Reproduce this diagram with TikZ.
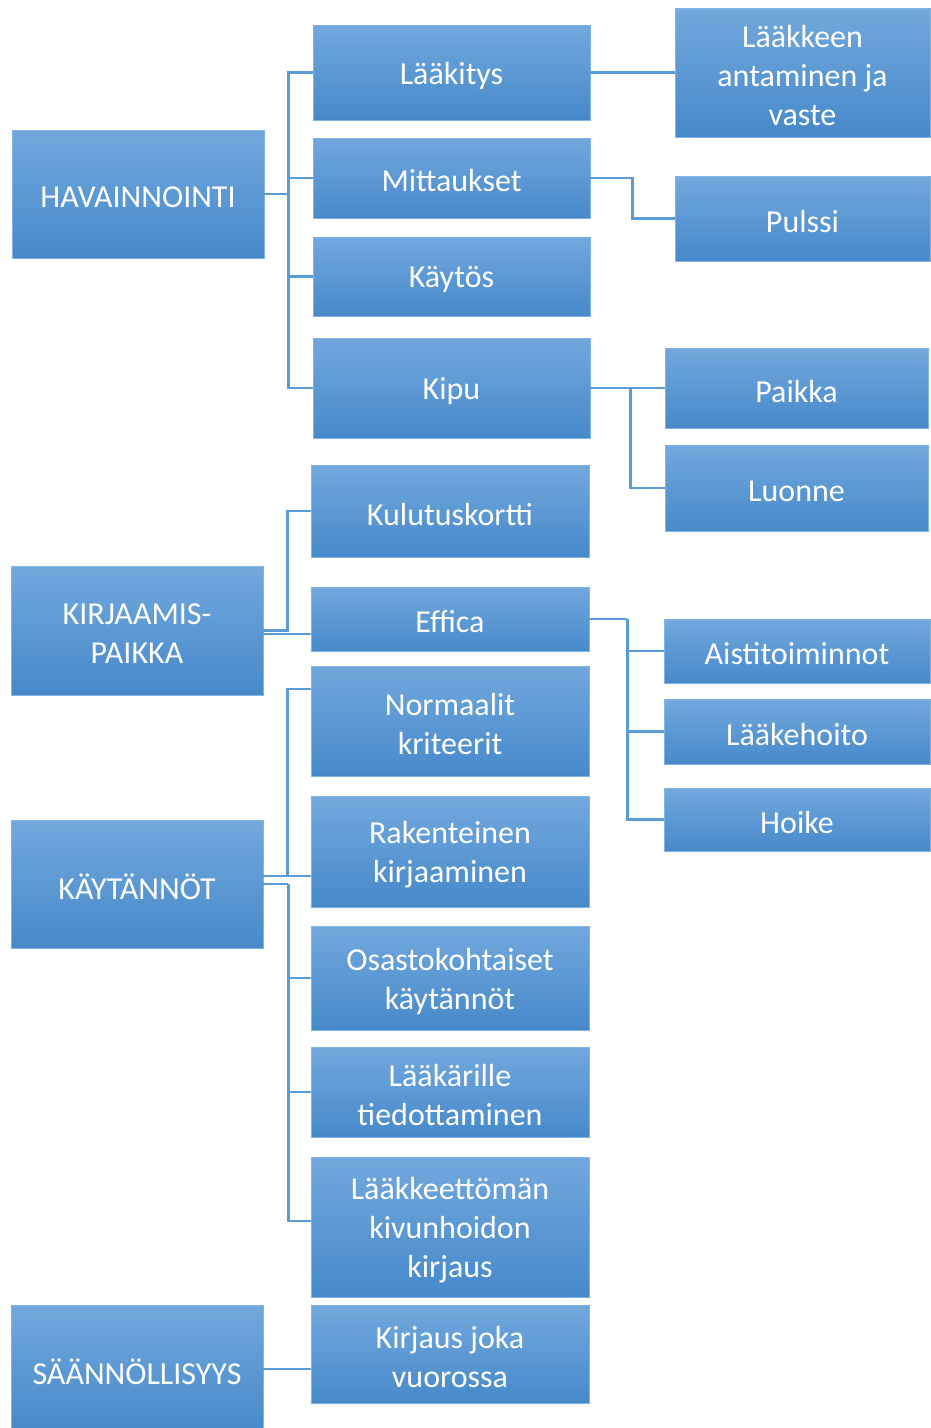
\documentclass[tikz,border=0pt]{standalone}
\usepackage{fontspec}
\setmainfont{Carlito}
\usetikzlibrary{calc}
\definecolor{boxtop}{RGB}{114,168,221}
\definecolor{boxmid}{RGB}{86,156,221}
\definecolor{boxbot}{RGB}{70,137,202}
\definecolor{boxedge}{RGB}{128,180,228}
\definecolor{linec}{RGB}{91,155,213}
\begin{document}
\begin{tikzpicture}[x=1pt,y=-1pt,
  boxtext/.style={text=white, align=center, inner sep=0pt, yshift=-3pt,
    font=\fontsize{32}{39}\selectfont},
  box/.style={rectangle, inner sep=0pt, draw=boxedge, line width=0.8pt,
    top color=boxtop, middle color=boxmid, bottom color=boxbot,
    label={[boxtext]center:#1}},
  conn/.style={draw=linec, line width=2.8pt, line join=miter}]
\useasboundingbox (0,0) rectangle (930,1428);
\fill[white] (0,0) rectangle (930,1428);
% left column
\node[box={HAVAINNOINTI}, minimum width=252pt, minimum height=128pt] (hav) at (138,194) {};
\node[box={KIRJAAMIS-\\PAIKKA}, minimum width=252pt, minimum height=129pt] (kir) at (137,630.5) {};
\node[box={KÄYTÄNNÖT}, minimum width=252pt, minimum height=128pt] (kay) at (137,884) {};
\node[box={SÄÄNNÖLLISYYS}, minimum width=252pt, minimum height=128pt] (saa) at (137,1369) {};
% middle column
\node[box={Lääkitys}, minimum width=277pt, minimum height=95pt] (laakitys) at (451.5,72.5) {};
\node[box={Mittaukset}, minimum width=277pt, minimum height=80pt] (mitt) at (451.5,178) {};
\node[box={Käytös}, minimum width=277pt, minimum height=79pt] (kaytos) at (451.5,276.5) {};
\node[box={Kipu}, minimum width=277pt, minimum height=100pt] (kipu) at (451.5,388) {};
\node[box={Kulutuskortti}, minimum width=278pt, minimum height=92pt] (kulu) at (450,511) {};
\node[box={Effica}, minimum width=278pt, minimum height=64pt] (effica) at (450,619) {};
\node[box={Normaalit\\kriteerit}, minimum width=278pt, minimum height=110pt] (norm) at (450,721) {};
\node[box={Rakenteinen\\kirjaaminen}, minimum width=278pt, minimum height=111pt] (rak) at (450,851.5) {};
\node[box={Osastokohtaiset\\käytännöt}, minimum width=278pt, minimum height=104pt] (osa) at (450,978) {};
\node[box={Lääkärille\\tiedottaminen}, minimum width=278pt, minimum height=90pt] (laakari) at (450,1092) {};
\node[box={Lääkkeettömän\\kivunhoidon\\kirjaus}, minimum width=278pt, minimum height=140pt] (laakk) at (450,1227) {};
\node[box={Kirjaus joka\\vuorossa}, minimum width=278pt, minimum height=98pt] (vuoro) at (450,1354) {};
% right column
\node[box={Lääkkeen\\antaminen ja\\vaste}, minimum width=255pt, minimum height=129pt] (antam) at (802.5,72.5) {};
\node[box={Pulssi}, minimum width=255pt, minimum height=85pt] (pulssi) at (802.5,218.5) {};
\node[box={Paikka}, minimum width=263pt, minimum height=80pt] (paikka) at (796.5,388) {};
\node[box={Luonne}, minimum width=263pt, minimum height=86pt] (luonne) at (796.5,488) {};
\node[box={Aistitoiminnot}, minimum width=266pt, minimum height=64pt] (aisti) at (797,651) {};
\node[box={Lääkehoito}, minimum width=266pt, minimum height=65pt] (laakeh) at (797,731.5) {};
\node[box={Hoike}, minimum width=266pt, minimum height=63pt] (hoike) at (797,819.5) {};
% HAVAINNOINTI connectors
\coordinate (hb) at ($(hav.east)+(24,0)$);
\draw[conn] (hav.east) -- (hb);
\draw[conn] (hb) |- (laakitys.west);
\draw[conn] (hb) |- (mitt.west);
\draw[conn] (hb) |- (kaytos.west);
\draw[conn] (hb) |- (kipu.west);
\draw[conn] (laakitys.east) -- (antam.west |- laakitys.east);
\draw[conn] (mitt.east) -- ++(42,0) |- (pulssi.west);
\draw[conn] (kipu.east) -- (paikka.west);
\draw[conn] ($(kipu.east)+(40,0)$) |- (luonne.west);
% KIRJAAMIS-PAIKKA connectors
\draw[conn] (kir.east) -- ++(24,0) |- (kulu.west);
\draw[conn] ($(kir.east)+(0,3.5)$) -- ($(kir.east -| effica.west)+(0,3.5)$);
\draw[conn] (effica.east) -- ++(38,0) coordinate (eb);
\draw[conn] (eb) |- (aisti.west);
\draw[conn] (eb) |- (laakeh.west);
\draw[conn] (eb) |- (hoike.west);
% KAYTANNOT connectors
\coordinate (ku) at ($(kay.east)+(0,-8)$);
\draw[conn] (ku) -- ($(ku -| rak.west)$);
\draw[conn] ($(ku)+(24,0)$) |- ($(norm.west)+(0,-32)$);
\coordinate (kb) at ($(kay.east)+(25,0)$);
\draw[conn] (kay.east) -- (kb);
\draw[conn] (kb) |- (osa.west);
\draw[conn] (kb) |- (laakari.west);
\draw[conn] (kb) |- ($(laakk.west)+(0,-6)$);
% SAANNOLLISYYS
\draw[conn] (saa.east) -- (saa.east -| vuoro.west);
\end{tikzpicture}
\end{document}
